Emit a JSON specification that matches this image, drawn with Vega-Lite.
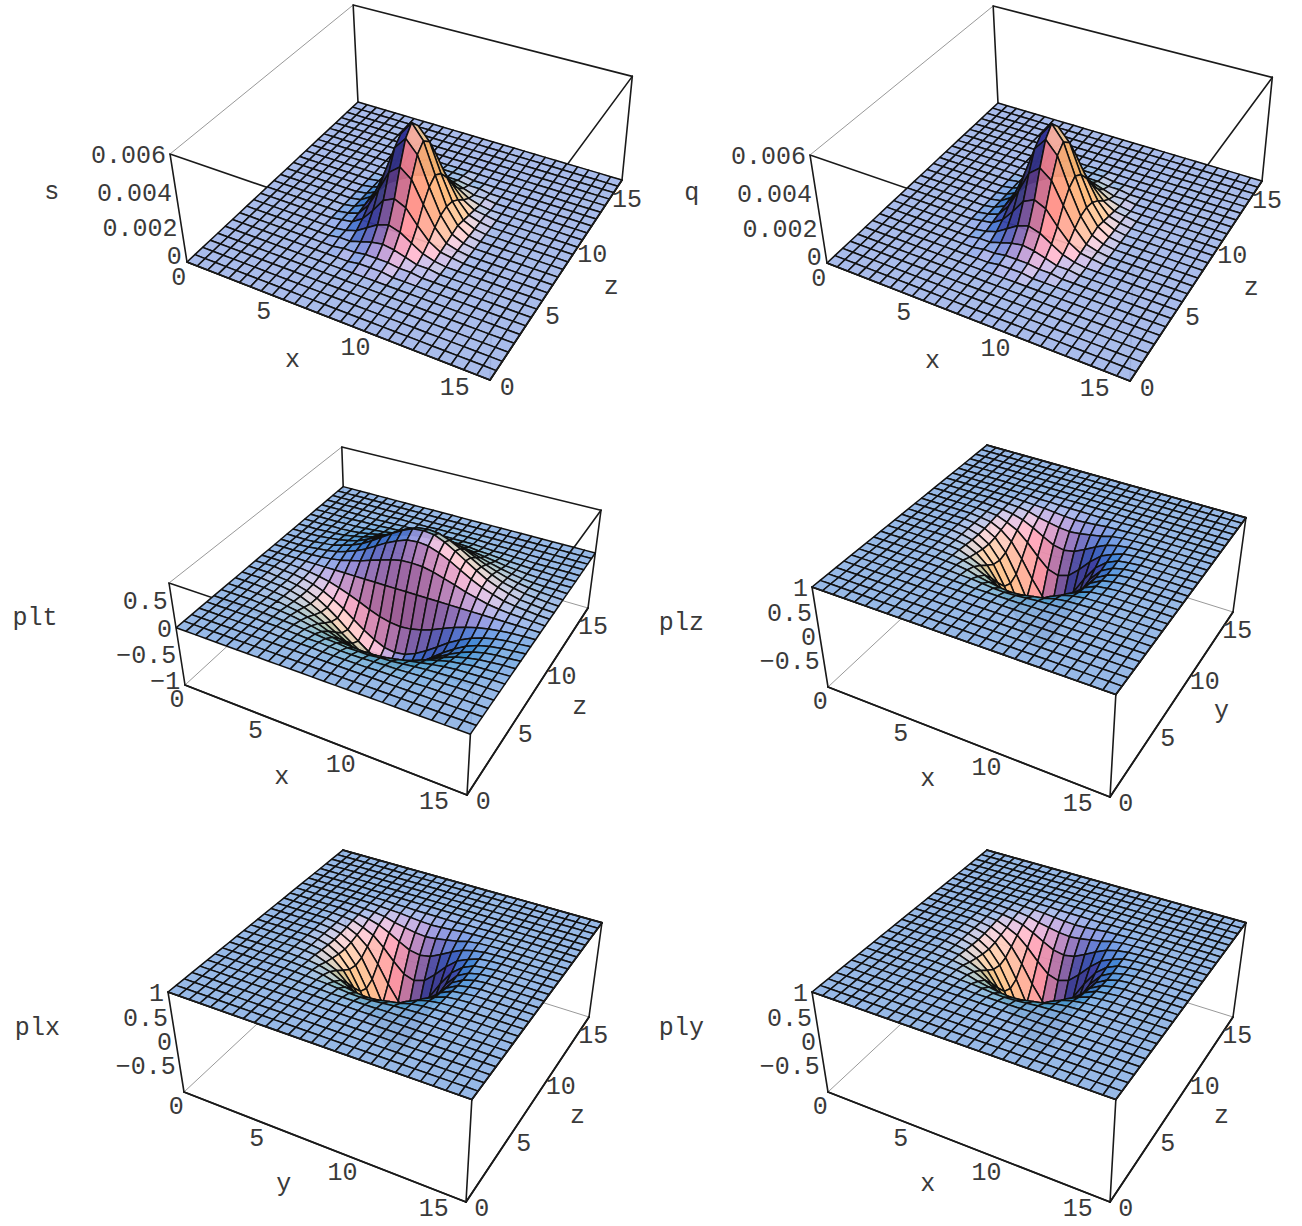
{"$schema":"https://vega.github.io/schema/vega-lite/v6.json","width":1302,"height":1226,"padding":0,"autosize":{"type":"fit","contains":"padding"},"background":"white","config":{"view":{"stroke":null}},
"params":[{"name":"cams","value":[[244.62,245.21,-27.37,187,72.72,-138.86,-117.4,262,-0.11915,0.2073,-0.061],[221.45,237.64,-27.83,185,6.92,-25.92,-142.81,685,-0.12966,0.22505,-0.07],[173.71,369.78,-72.84,828,32.24,-38.5,-141.09,687,-0.09756,0.20988,-0.07]]}],
"datasets":{
"box":[{"e":"AB0","n":0,"u":0,"v":0,"w":0,"z":"front"},{"e":"AB0","n":1,"u":1,"v":0,"w":0,"z":"front"},{"e":"BC0","n":0,"u":1,"v":0,"w":0,"z":"front"},{"e":"BC0","n":1,"u":1,"v":1,"w":0,"z":"front"},{"e":"CD0","n":0,"u":1,"v":1,"w":0,"z":"back","thin":1},{"e":"CD0","n":1,"u":0,"v":1,"w":0,"z":"back","thin":1},{"e":"DA0","n":0,"u":0,"v":1,"w":0,"z":"back","thin":1},{"e":"DA0","n":1,"u":0,"v":0,"w":0,"z":"back","thin":1},
{"e":"AB1","n":0,"u":0,"v":0,"w":1,"z":"rim"},{"e":"AB1","n":1,"u":1,"v":0,"w":1,"z":"rim"},{"e":"BC1","n":0,"u":1,"v":0,"w":1,"z":"rim"},{"e":"BC1","n":1,"u":1,"v":1,"w":1,"z":"rim"},{"e":"CD1","n":0,"u":1,"v":1,"w":1,"z":"rim"},{"e":"CD1","n":1,"u":0,"v":1,"w":1,"z":"rim"},{"e":"DA1","n":0,"u":0,"v":1,"w":1,"z":"back","thin":1},{"e":"DA1","n":1,"u":0,"v":0,"w":1,"z":"back","thin":1},
{"e":"AA","n":0,"u":0,"v":0,"w":0,"z":"back"},{"e":"AA","n":1,"u":0,"v":0,"w":1,"z":"back"},{"e":"BB","n":0,"u":1,"v":0,"w":0,"z":"back"},{"e":"BB","n":1,"u":1,"v":0,"w":1,"z":"back"},{"e":"CC","n":0,"u":1,"v":1,"w":0,"z":"back"},{"e":"CC","n":1,"u":1,"v":1,"w":1,"z":"back"},{"e":"DD","n":0,"u":0,"v":1,"w":0,"z":"back"},{"e":"DD","n":1,"u":0,"v":1,"w":1,"z":"back"}],
"labels":[
{"p":0,"kind":"a","val":0,"text":"0"},{"p":0,"kind":"a","val":5,"text":"5"},{"p":0,"kind":"a","val":10,"text":"10"},{"p":0,"kind":"a","val":15,"text":"15"},{"p":0,"kind":"b","val":0,"text":"0"},{"p":0,"kind":"b","val":5,"text":"5"},{"p":0,"kind":"b","val":10,"text":"10"},{"p":0,"kind":"b","val":15,"text":"15"},{"p":0,"kind":"h","val":0,"text":"0"},{"p":0,"kind":"h","val":0.002,"text":"0.002"},{"p":0,"kind":"h","val":0.004,"text":"0.004"},{"p":0,"kind":"h","val":0.006,"text":"0.006"},{"p":0,"kind":"A","text":"x"},{"p":0,"kind":"B","text":"z"},{"p":0,"kind":"H","text":"s"},
{"p":1,"kind":"a","val":0,"text":"0"},{"p":1,"kind":"a","val":5,"text":"5"},{"p":1,"kind":"a","val":10,"text":"10"},{"p":1,"kind":"a","val":15,"text":"15"},{"p":1,"kind":"b","val":0,"text":"0"},{"p":1,"kind":"b","val":5,"text":"5"},{"p":1,"kind":"b","val":10,"text":"10"},{"p":1,"kind":"b","val":15,"text":"15"},{"p":1,"kind":"h","val":0,"text":"0"},{"p":1,"kind":"h","val":0.002,"text":"0.002"},{"p":1,"kind":"h","val":0.004,"text":"0.004"},{"p":1,"kind":"h","val":0.006,"text":"0.006"},{"p":1,"kind":"A","text":"x"},{"p":1,"kind":"B","text":"z"},{"p":1,"kind":"H","text":"q"},
{"p":2,"kind":"a","val":0,"text":"0"},{"p":2,"kind":"a","val":5,"text":"5"},{"p":2,"kind":"a","val":10,"text":"10"},{"p":2,"kind":"a","val":15,"text":"15"},{"p":2,"kind":"b","val":0,"text":"0"},{"p":2,"kind":"b","val":5,"text":"5"},{"p":2,"kind":"b","val":10,"text":"10"},{"p":2,"kind":"b","val":15,"text":"15"},{"p":2,"kind":"h","val":-1,"text":"−1"},{"p":2,"kind":"h","val":-0.5,"text":"−0.5"},{"p":2,"kind":"h","val":0,"text":"0"},{"p":2,"kind":"h","val":0.5,"text":"0.5"},{"p":2,"kind":"A","text":"x"},{"p":2,"kind":"B","text":"z"},{"p":2,"kind":"H","text":"plt"},
{"p":3,"kind":"a","val":0,"text":"0"},{"p":3,"kind":"a","val":5,"text":"5"},{"p":3,"kind":"a","val":10,"text":"10"},{"p":3,"kind":"a","val":15,"text":"15"},{"p":3,"kind":"b","val":0,"text":"0"},{"p":3,"kind":"b","val":5,"text":"5"},{"p":3,"kind":"b","val":10,"text":"10"},{"p":3,"kind":"b","val":15,"text":"15"},{"p":3,"kind":"h","val":-0.5,"text":"−0.5"},{"p":3,"kind":"h","val":0,"text":"0"},{"p":3,"kind":"h","val":0.5,"text":"0.5"},{"p":3,"kind":"h","val":1,"text":"1"},{"p":3,"kind":"A","text":"x"},{"p":3,"kind":"B","text":"y"},{"p":3,"kind":"H","text":"plz"},
{"p":4,"kind":"a","val":0,"text":"0"},{"p":4,"kind":"a","val":5,"text":"5"},{"p":4,"kind":"a","val":10,"text":"10"},{"p":4,"kind":"a","val":15,"text":"15"},{"p":4,"kind":"b","val":0,"text":"0"},{"p":4,"kind":"b","val":5,"text":"5"},{"p":4,"kind":"b","val":10,"text":"10"},{"p":4,"kind":"b","val":15,"text":"15"},{"p":4,"kind":"h","val":-0.5,"text":"−0.5"},{"p":4,"kind":"h","val":0,"text":"0"},{"p":4,"kind":"h","val":0.5,"text":"0.5"},{"p":4,"kind":"h","val":1,"text":"1"},{"p":4,"kind":"A","text":"y"},{"p":4,"kind":"B","text":"z"},{"p":4,"kind":"H","text":"plx"},
{"p":5,"kind":"a","val":0,"text":"0"},{"p":5,"kind":"a","val":5,"text":"5"},{"p":5,"kind":"a","val":10,"text":"10"},{"p":5,"kind":"a","val":15,"text":"15"},{"p":5,"kind":"b","val":0,"text":"0"},{"p":5,"kind":"b","val":5,"text":"5"},{"p":5,"kind":"b","val":10,"text":"10"},{"p":5,"kind":"b","val":15,"text":"15"},{"p":5,"kind":"h","val":-0.5,"text":"−0.5"},{"p":5,"kind":"h","val":0,"text":"0"},{"p":5,"kind":"h","val":0.5,"text":"0.5"},{"p":5,"kind":"h","val":1,"text":"1"},{"p":5,"kind":"A","text":"x"},{"p":5,"kind":"B","text":"z"},{"p":5,"kind":"H","text":"ply"}],
"nodes":[
{"i":0,"j":26},{"i":0,"j":25},{"i":0,"j":24},{"i":0,"j":23},{"i":0,"j":22},{"i":0,"j":21},{"i":0,"j":20},{"i":0,"j":19},{"i":0,"j":18},{"i":0,"j":17},{"i":0,"j":16},{"i":0,"j":15},{"i":0,"j":14},{"i":0,"j":13},{"i":0,"j":12},{"i":0,"j":11},{"i":0,"j":10},{"i":0,"j":9},{"i":0,"j":8},{"i":0,"j":7},{"i":0,"j":6},{"i":0,"j":5},{"i":0,"j":4},{"i":0,"j":3},{"i":0,"j":2},{"i":0,"j":1},{"i":0,"j":0},
{"i":1,"j":26},{"i":1,"j":25},{"i":1,"j":24},{"i":1,"j":23},{"i":1,"j":22},{"i":1,"j":21},{"i":1,"j":20},{"i":1,"j":19},{"i":1,"j":18},{"i":1,"j":17},{"i":1,"j":16},{"i":1,"j":15},{"i":1,"j":14},{"i":1,"j":13},{"i":1,"j":12},{"i":1,"j":11},{"i":1,"j":10},{"i":1,"j":9},{"i":1,"j":8},{"i":1,"j":7},{"i":1,"j":6},{"i":1,"j":5},{"i":1,"j":4},{"i":1,"j":3},{"i":1,"j":2},{"i":1,"j":1},{"i":1,"j":0},
{"i":2,"j":26},{"i":2,"j":25},{"i":2,"j":24},{"i":2,"j":23},{"i":2,"j":22},{"i":2,"j":21},{"i":2,"j":20},{"i":2,"j":19},{"i":2,"j":18},{"i":2,"j":17},{"i":2,"j":16},{"i":2,"j":15},{"i":2,"j":14},{"i":2,"j":13},{"i":2,"j":12},{"i":2,"j":11},{"i":2,"j":10},{"i":2,"j":9},{"i":2,"j":8},{"i":2,"j":7},{"i":2,"j":6},{"i":2,"j":5},{"i":2,"j":4},{"i":2,"j":3},{"i":2,"j":2},{"i":2,"j":1},{"i":2,"j":0},
{"i":3,"j":26},{"i":3,"j":25},{"i":3,"j":24},{"i":3,"j":23},{"i":3,"j":22},{"i":3,"j":21},{"i":3,"j":20},{"i":3,"j":19,"t":0.01},{"i":3,"j":18,"t":0.01},{"i":3,"j":17,"t":0.01},{"i":3,"j":16,"t":0.01},{"i":3,"j":15,"t":0.01},{"i":3,"j":14,"t":0.01},{"i":3,"j":13},{"i":3,"j":12,"t":-0.01},{"i":3,"j":11,"t":-0.02},{"i":3,"j":10,"t":-0.02},{"i":3,"j":9,"t":-0.02},{"i":3,"j":8,"t":-0.01},{"i":3,"j":7,"t":-0.01},{"i":3,"j":6},{"i":3,"j":5},{"i":3,"j":4},{"i":3,"j":3},{"i":3,"j":2},{"i":3,"j":1},{"i":3,"j":0},
{"i":4,"j":26},{"i":4,"j":25},{"i":4,"j":24},{"i":4,"j":23},{"i":4,"j":22},{"i":4,"j":21},{"i":4,"j":20,"t":0.01},{"i":4,"j":19,"t":0.01},{"i":4,"j":18,"t":0.02},{"i":4,"j":17,"t":0.03},{"i":4,"j":16,"t":0.03},{"i":4,"j":15,"t":0.03},{"i":4,"j":14,"t":0.02},{"i":4,"j":13},{"i":4,"j":12,"t":-0.02},{"i":4,"j":11,"t":-0.03},{"i":4,"j":10,"t":-0.04},{"i":4,"j":9,"t":-0.03},{"i":4,"j":8,"t":-0.03},{"i":4,"j":7,"t":-0.02},{"i":4,"j":6,"t":-0.01},{"i":4,"j":5},{"i":4,"j":4},{"i":4,"j":3},{"i":4,"j":2},{"i":4,"j":1},{"i":4,"j":0},
{"i":5,"j":26},{"i":5,"j":25},{"i":5,"j":24},{"i":5,"j":23},{"i":5,"j":22},{"i":5,"j":21,"t":0.01},{"i":5,"j":20,"t":0.01},{"i":5,"j":19,"t":0.02},{"i":5,"j":18,"t":0.04},{"i":5,"j":17,"t":0.05},{"i":5,"j":16,"t":0.05},{"i":5,"j":15,"t":0.05},{"i":5,"j":14,"t":0.03},{"i":5,"j":13},{"i":5,"j":12,"t":-0.04},{"i":5,"j":11,"t":-0.06},{"i":5,"j":10,"t":-0.07},{"i":5,"j":9,"t":-0.06},{"i":5,"j":8,"t":-0.05},{"i":5,"j":7,"t":-0.03},{"i":5,"j":6,"t":-0.02},{"i":5,"j":5,"t":-0.01},{"i":5,"j":4},{"i":5,"j":3},{"i":5,"j":2},{"i":5,"j":1},{"i":5,"j":0},
{"i":6,"j":26},{"i":6,"j":25},{"i":6,"j":24},{"i":6,"j":23},{"i":6,"j":22},{"i":6,"j":21,"t":0.01},{"i":6,"j":20,"t":0.02},{"i":6,"j":19,"t":0.04},{"i":6,"j":18,"t":0.07},{"i":6,"j":17,"t":0.09,"l":0.99},{"i":6,"j":16,"t":0.1,"l":0.99},{"i":6,"j":15,"t":0.08,"l":0.98},{"i":6,"j":14,"t":0.05,"l":0.98},{"i":6,"j":13,"l":0.98},{"i":6,"j":12,"t":-0.07,"l":0.98},{"i":6,"j":11,"t":-0.11,"l":0.98},{"i":6,"j":10,"t":-0.12,"l":0.99},{"i":6,"j":9,"t":-0.11,"l":0.99},{"i":6,"j":8,"t":-0.09},{"i":6,"j":7,"t":-0.06},{"i":6,"j":6,"t":-0.03},{"i":6,"j":5,"t":-0.02},{"i":6,"j":4,"t":-0.01},{"i":6,"j":3},{"i":6,"j":2},{"i":6,"j":1},{"i":6,"j":0},
{"i":7,"j":26},{"i":7,"j":25},{"i":7,"j":24},{"i":7,"j":23},{"i":7,"j":22,"t":0.01},{"i":7,"j":21,"t":0.02},{"i":7,"j":20,"t":0.04},{"i":7,"j":19,"t":0.07},{"i":7,"j":18,"t":0.11,"l":0.99},{"i":7,"j":17,"t":0.14,"l":0.98},{"i":7,"j":16,"t":0.16,"l":0.97},{"i":7,"j":15,"t":0.14,"l":0.95},{"i":7,"j":14,"t":0.08,"l":0.93},{"i":7,"j":13,"l":0.92},{"i":7,"j":12,"t":-0.11,"l":0.93},{"i":7,"j":11,"t":-0.18,"l":0.95},{"i":7,"j":10,"t":-0.2,"l":0.97},{"i":7,"j":9,"t":-0.19,"l":0.98},{"i":7,"j":8,"t":-0.14,"l":0.99},{"i":7,"j":7,"t":-0.09},{"i":7,"j":6,"t":-0.05},{"i":7,"j":5,"t":-0.03},{"i":7,"j":4,"t":-0.01},{"i":7,"j":3},{"i":7,"j":2},{"i":7,"j":1},{"i":7,"j":0},
{"i":8,"j":26},{"i":8,"j":25},{"i":8,"j":24},{"i":8,"j":23,"t":0.01},{"i":8,"j":22,"t":0.01},{"i":8,"j":21,"t":0.03},{"i":8,"j":20,"t":0.06},{"i":8,"j":19,"t":0.11,"l":0.99},{"i":8,"j":18,"t":0.17,"l":0.98},{"i":8,"j":17,"t":0.22,"l":0.95},{"i":8,"j":16,"t":0.24,"l":0.89,"s":0.0001},{"i":8,"j":15,"t":0.21,"l":0.85,"s":0.0001},{"i":8,"j":14,"t":0.13,"l":0.81,"s":0.0001},{"i":8,"j":13,"l":0.79,"s":0.0001},{"i":8,"j":12,"t":-0.17,"l":0.81,"s":0.0001},{"i":8,"j":11,"t":-0.28,"l":0.85,"s":0.0001},{"i":8,"j":10,"t":-0.32,"l":0.89,"s":0.0001},{"i":8,"j":9,"t":-0.29,"l":0.95},{"i":8,"j":8,"t":-0.22,"l":0.98},{"i":8,"j":7,"t":-0.14,"l":0.99},{"i":8,"j":6,"t":-0.08},{"i":8,"j":5,"t":-0.04},{"i":8,"j":4,"t":-0.02},{"i":8,"j":3,"t":-0.01},{"i":8,"j":2},{"i":8,"j":1},{"i":8,"j":0},
{"i":9,"j":26},{"i":9,"j":25},{"i":9,"j":24},{"i":9,"j":23,"t":0.01},{"i":9,"j":22,"t":0.02},{"i":9,"j":21,"t":0.04},{"i":9,"j":20,"t":0.09,"l":0.99},{"i":9,"j":19,"t":0.16,"l":0.98},{"i":9,"j":18,"t":0.24,"l":0.95,"s":0.0001},{"i":9,"j":17,"t":0.31,"l":0.89,"s":0.0001},{"i":9,"j":16,"t":0.35,"l":0.79,"s":0.0002},{"i":9,"j":15,"t":0.3,"l":0.67,"s":0.0003},{"i":9,"j":14,"t":0.18,"l":0.56,"s":0.0004},{"i":9,"j":13,"l":0.52,"s":0.0005},{"i":9,"j":12,"t":-0.24,"l":0.56,"s":0.0004},{"i":9,"j":11,"t":-0.4,"l":0.67,"s":0.0003},{"i":9,"j":10,"t":-0.46,"l":0.79,"s":0.0002},{"i":9,"j":9,"t":-0.41,"l":0.89,"s":0.0001},{"i":9,"j":8,"t":-0.31,"l":0.95,"s":0.0001},{"i":9,"j":7,"t":-0.2,"l":0.98},{"i":9,"j":6,"t":-0.12,"l":0.99},{"i":9,"j":5,"t":-0.06},{"i":9,"j":4,"t":-0.03},{"i":9,"j":3,"t":-0.01},{"i":9,"j":2},{"i":9,"j":1},{"i":9,"j":0},
{"i":10,"j":26},{"i":10,"j":25},{"i":10,"j":24},{"i":10,"j":23,"t":0.01},{"i":10,"j":22,"t":0.02},{"i":10,"j":21,"t":0.06},{"i":10,"j":20,"t":0.12,"l":0.99},{"i":10,"j":19,"t":0.21,"l":0.97,"s":0.0001},{"i":10,"j":18,"t":0.32,"l":0.89,"s":0.0001},{"i":10,"j":17,"t":0.42,"l":0.79,"s":0.0003},{"i":10,"j":16,"t":0.47,"l":0.6,"s":0.0006},{"i":10,"j":15,"t":0.41,"l":0.37,"s":0.001},{"i":10,"j":14,"t":0.25,"l":0.17,"s":0.0013},{"i":10,"j":13,"l":0.1,"s":0.0014},{"i":10,"j":12,"t":-0.32,"l":0.17,"s":0.0013},{"i":10,"j":11,"t":-0.55,"l":0.37,"s":0.001},{"i":10,"j":10,"t":-0.62,"l":0.6,"s":0.0006},{"i":10,"j":9,"t":-0.56,"l":0.79,"s":0.0003},{"i":10,"j":8,"t":-0.42,"l":0.89,"s":0.0001},{"i":10,"j":7,"t":-0.28,"l":0.97,"s":0.0001},{"i":10,"j":6,"t":-0.16,"l":0.99},{"i":10,"j":5,"t":-0.08},{"i":10,"j":4,"t":-0.04},{"i":10,"j":3,"t":-0.01},{"i":10,"j":2},{"i":10,"j":1},{"i":10,"j":0},
{"i":11,"j":26},{"i":11,"j":25},{"i":11,"j":24},{"i":11,"j":23,"t":0.01},{"i":11,"j":22,"t":0.03},{"i":11,"j":21,"t":0.07},{"i":11,"j":20,"t":0.15,"l":0.98},{"i":11,"j":19,"t":0.27,"l":0.95,"s":0.0001},{"i":11,"j":18,"t":0.41,"l":0.85,"s":0.0003},{"i":11,"j":17,"t":0.53,"l":0.67,"s":0.0007},{"i":11,"j":16,"t":0.59,"l":0.37,"s":0.0013},{"i":11,"j":15,"t":0.52,"l":0.01,"s":0.0021},{"i":11,"j":14,"t":0.31,"l":-0.3,"s":0.0027},{"i":11,"j":13,"l":-0.42,"s":0.003},{"i":11,"j":12,"t":-0.41,"l":-0.3,"s":0.0027},{"i":11,"j":11,"t":-0.69,"l":0.01,"s":0.0021},{"i":11,"j":10,"t":-0.78,"l":0.37,"s":0.0013},{"i":11,"j":9,"t":-0.7,"l":0.67,"s":0.0007},{"i":11,"j":8,"t":-0.53,"l":0.85,"s":0.0003},{"i":11,"j":7,"t":-0.35,"l":0.95,"s":0.0001},{"i":11,"j":6,"t":-0.2,"l":0.98},{"i":11,"j":5,"t":-0.1},{"i":11,"j":4,"t":-0.04},{"i":11,"j":3,"t":-0.01},{"i":11,"j":2},{"i":11,"j":1},{"i":11,"j":0},
{"i":12,"j":26},{"i":12,"j":25},{"i":12,"j":24},{"i":12,"j":23,"t":0.02},{"i":12,"j":22,"t":0.04},{"i":12,"j":21,"t":0.09},{"i":12,"j":20,"t":0.18,"l":0.98,"s":0.0001},{"i":12,"j":19,"t":0.32,"l":0.93,"s":0.0002},{"i":12,"j":18,"t":0.48,"l":0.81,"s":0.0005},{"i":12,"j":17,"t":0.63,"l":0.56,"s":0.0011},{"i":12,"j":16,"t":0.7,"l":0.17,"s":0.0021},{"i":12,"j":15,"t":0.61,"l":-0.3,"s":0.0033},{"i":12,"j":14,"t":0.37,"l":-0.71,"s":0.0043},{"i":12,"j":13,"l":-0.87,"s":0.0047},{"i":12,"j":12,"t":-0.48,"l":-0.71,"s":0.0043},{"i":12,"j":11,"t":-0.81,"l":-0.3,"s":0.0033},{"i":12,"j":10,"t":-0.92,"l":0.17,"s":0.0021},{"i":12,"j":9,"t":-0.83,"l":0.56,"s":0.0011},{"i":12,"j":8,"t":-0.63,"l":0.81,"s":0.0005},{"i":12,"j":7,"t":-0.41,"l":0.93,"s":0.0002},{"i":12,"j":6,"t":-0.24,"l":0.98,"s":0.0001},{"i":12,"j":5,"t":-0.11},{"i":12,"j":4,"t":-0.05},{"i":12,"j":3,"t":-0.02},{"i":12,"j":2},{"i":12,"j":1},{"i":12,"j":0},
{"i":13,"j":26},{"i":13,"j":25},{"i":13,"j":24},{"i":13,"j":23,"t":0.02},{"i":13,"j":22,"t":0.04},{"i":13,"j":21,"t":0.1},{"i":13,"j":20,"t":0.19,"l":0.98,"s":0.0001},{"i":13,"j":19,"t":0.35,"l":0.92,"s":0.0002},{"i":13,"j":18,"t":0.53,"l":0.79,"s":0.0006},{"i":13,"j":17,"t":0.7,"l":0.52,"s":0.0013},{"i":13,"j":16,"t":0.78,"l":0.1,"s":0.0024},{"i":13,"j":15,"t":0.68,"l":-0.42,"s":0.0038},{"i":13,"j":14,"t":0.41,"l":-0.87,"s":0.005},{"i":13,"j":13,"l":-1.05,"s":0.0055},{"i":13,"j":12,"t":-0.53,"l":-0.87,"s":0.005},{"i":13,"j":11,"t":-0.9,"l":-0.42,"s":0.0038},{"i":13,"j":10,"t":-1.02,"l":0.1,"s":0.0024},{"i":13,"j":9,"t":-0.92,"l":0.52,"s":0.0013},{"i":13,"j":8,"t":-0.7,"l":0.79,"s":0.0006},{"i":13,"j":7,"t":-0.46,"l":0.92,"s":0.0002},{"i":13,"j":6,"t":-0.26,"l":0.98,"s":0.0001},{"i":13,"j":5,"t":-0.13},{"i":13,"j":4,"t":-0.06},{"i":13,"j":3,"t":-0.02},{"i":13,"j":2},{"i":13,"j":1},{"i":13,"j":0},
{"i":14,"j":26},{"i":14,"j":25},{"i":14,"j":24},{"i":14,"j":23,"t":0.02},{"i":14,"j":22,"t":0.04},{"i":14,"j":21,"t":0.1},{"i":14,"j":20,"t":0.2,"l":0.98,"s":0.0001},{"i":14,"j":19,"t":0.36,"l":0.93,"s":0.0002},{"i":14,"j":18,"t":0.55,"l":0.81,"s":0.0005},{"i":14,"j":17,"t":0.72,"l":0.56,"s":0.0011},{"i":14,"j":16,"t":0.8,"l":0.17,"s":0.0021},{"i":14,"j":15,"t":0.7,"l":-0.3,"s":0.0033},{"i":14,"j":14,"t":0.42,"l":-0.71,"s":0.0043},{"i":14,"j":13,"l":-0.87,"s":0.0047},{"i":14,"j":12,"t":-0.55,"l":-0.71,"s":0.0043},{"i":14,"j":11,"t":-0.93,"l":-0.3,"s":0.0033},{"i":14,"j":10,"t":-1.05,"l":0.17,"s":0.0021},{"i":14,"j":9,"t":-0.95,"l":0.56,"s":0.0011},{"i":14,"j":8,"t":-0.72,"l":0.81,"s":0.0005},{"i":14,"j":7,"t":-0.47,"l":0.93,"s":0.0002},{"i":14,"j":6,"t":-0.27,"l":0.98,"s":0.0001},{"i":14,"j":5,"t":-0.13},{"i":14,"j":4,"t":-0.06},{"i":14,"j":3,"t":-0.02},{"i":14,"j":2},{"i":14,"j":1},{"i":14,"j":0},
{"i":15,"j":26},{"i":15,"j":25},{"i":15,"j":24},{"i":15,"j":23,"t":0.02},{"i":15,"j":22,"t":0.04},{"i":15,"j":21,"t":0.1},{"i":15,"j":20,"t":0.19,"l":0.98},{"i":15,"j":19,"t":0.35,"l":0.95,"s":0.0001},{"i":15,"j":18,"t":0.53,"l":0.85,"s":0.0003},{"i":15,"j":17,"t":0.7,"l":0.67,"s":0.0007},{"i":15,"j":16,"t":0.78,"l":0.37,"s":0.0013},{"i":15,"j":15,"t":0.68,"l":0.01,"s":0.0021},{"i":15,"j":14,"t":0.41,"l":-0.3,"s":0.0027},{"i":15,"j":13,"l":-0.42,"s":0.003},{"i":15,"j":12,"t":-0.53,"l":-0.3,"s":0.0027},{"i":15,"j":11,"t":-0.9,"l":0.01,"s":0.0021},{"i":15,"j":10,"t":-1.02,"l":0.37,"s":0.0013},{"i":15,"j":9,"t":-0.92,"l":0.67,"s":0.0007},{"i":15,"j":8,"t":-0.7,"l":0.85,"s":0.0003},{"i":15,"j":7,"t":-0.46,"l":0.95,"s":0.0001},{"i":15,"j":6,"t":-0.26,"l":0.98},{"i":15,"j":5,"t":-0.13},{"i":15,"j":4,"t":-0.06},{"i":15,"j":3,"t":-0.02},{"i":15,"j":2},{"i":15,"j":1},{"i":15,"j":0},
{"i":16,"j":26},{"i":16,"j":25},{"i":16,"j":24},{"i":16,"j":23,"t":0.02},{"i":16,"j":22,"t":0.04},{"i":16,"j":21,"t":0.09},{"i":16,"j":20,"t":0.18,"l":0.99},{"i":16,"j":19,"t":0.32,"l":0.97,"s":0.0001},{"i":16,"j":18,"t":0.48,"l":0.89,"s":0.0001},{"i":16,"j":17,"t":0.63,"l":0.79,"s":0.0003},{"i":16,"j":16,"t":0.7,"l":0.6,"s":0.0006},{"i":16,"j":15,"t":0.61,"l":0.37,"s":0.001},{"i":16,"j":14,"t":0.37,"l":0.17,"s":0.0013},{"i":16,"j":13,"l":0.1,"s":0.0014},{"i":16,"j":12,"t":-0.48,"l":0.17,"s":0.0013},{"i":16,"j":11,"t":-0.81,"l":0.37,"s":0.001},{"i":16,"j":10,"t":-0.92,"l":0.6,"s":0.0006},{"i":16,"j":9,"t":-0.83,"l":0.79,"s":0.0003},{"i":16,"j":8,"t":-0.63,"l":0.89,"s":0.0001},{"i":16,"j":7,"t":-0.41,"l":0.97,"s":0.0001},{"i":16,"j":6,"t":-0.24,"l":0.99},{"i":16,"j":5,"t":-0.11},{"i":16,"j":4,"t":-0.05},{"i":16,"j":3,"t":-0.02},{"i":16,"j":2},{"i":16,"j":1},{"i":16,"j":0},
{"i":17,"j":26},{"i":17,"j":25},{"i":17,"j":24},{"i":17,"j":23,"t":0.01},{"i":17,"j":22,"t":0.03},{"i":17,"j":21,"t":0.07},{"i":17,"j":20,"t":0.15,"l":0.99},{"i":17,"j":19,"t":0.27,"l":0.98},{"i":17,"j":18,"t":0.41,"l":0.95,"s":0.0001},{"i":17,"j":17,"t":0.53,"l":0.89,"s":0.0001},{"i":17,"j":16,"t":0.59,"l":0.79,"s":0.0002},{"i":17,"j":15,"t":0.52,"l":0.67,"s":0.0003},{"i":17,"j":14,"t":0.31,"l":0.56,"s":0.0004},{"i":17,"j":13,"l":0.52,"s":0.0005},{"i":17,"j":12,"t":-0.41,"l":0.56,"s":0.0004},{"i":17,"j":11,"t":-0.69,"l":0.67,"s":0.0003},{"i":17,"j":10,"t":-0.78,"l":0.79,"s":0.0002},{"i":17,"j":9,"t":-0.7,"l":0.89,"s":0.0001},{"i":17,"j":8,"t":-0.53,"l":0.95,"s":0.0001},{"i":17,"j":7,"t":-0.35,"l":0.98},{"i":17,"j":6,"t":-0.2,"l":0.99},{"i":17,"j":5,"t":-0.1},{"i":17,"j":4,"t":-0.04},{"i":17,"j":3,"t":-0.01},{"i":17,"j":2},{"i":17,"j":1},{"i":17,"j":0},
{"i":18,"j":26},{"i":18,"j":25},{"i":18,"j":24},{"i":18,"j":23,"t":0.01},{"i":18,"j":22,"t":0.02},{"i":18,"j":21,"t":0.06},{"i":18,"j":20,"t":0.12},{"i":18,"j":19,"t":0.21,"l":0.99},{"i":18,"j":18,"t":0.32,"l":0.98},{"i":18,"j":17,"t":0.42,"l":0.95},{"i":18,"j":16,"t":0.47,"l":0.89,"s":0.0001},{"i":18,"j":15,"t":0.41,"l":0.85,"s":0.0001},{"i":18,"j":14,"t":0.25,"l":0.81,"s":0.0001},{"i":18,"j":13,"l":0.79,"s":0.0001},{"i":18,"j":12,"t":-0.32,"l":0.81,"s":0.0001},{"i":18,"j":11,"t":-0.55,"l":0.85,"s":0.0001},{"i":18,"j":10,"t":-0.62,"l":0.89,"s":0.0001},{"i":18,"j":9,"t":-0.56,"l":0.95},{"i":18,"j":8,"t":-0.42,"l":0.98},{"i":18,"j":7,"t":-0.28,"l":0.99},{"i":18,"j":6,"t":-0.16},{"i":18,"j":5,"t":-0.08},{"i":18,"j":4,"t":-0.04},{"i":18,"j":3,"t":-0.01},{"i":18,"j":2},{"i":18,"j":1},{"i":18,"j":0},
{"i":19,"j":26},{"i":19,"j":25},{"i":19,"j":24},{"i":19,"j":23,"t":0.01},{"i":19,"j":22,"t":0.02},{"i":19,"j":21,"t":0.04},{"i":19,"j":20,"t":0.09},{"i":19,"j":19,"t":0.16},{"i":19,"j":18,"t":0.24,"l":0.99},{"i":19,"j":17,"t":0.31,"l":0.98},{"i":19,"j":16,"t":0.35,"l":0.97},{"i":19,"j":15,"t":0.3,"l":0.95},{"i":19,"j":14,"t":0.18,"l":0.93},{"i":19,"j":13,"l":0.92},{"i":19,"j":12,"t":-0.24,"l":0.93},{"i":19,"j":11,"t":-0.4,"l":0.95},{"i":19,"j":10,"t":-0.46,"l":0.97},{"i":19,"j":9,"t":-0.41,"l":0.98},{"i":19,"j":8,"t":-0.31,"l":0.99},{"i":19,"j":7,"t":-0.2},{"i":19,"j":6,"t":-0.12},{"i":19,"j":5,"t":-0.06},{"i":19,"j":4,"t":-0.03},{"i":19,"j":3,"t":-0.01},{"i":19,"j":2},{"i":19,"j":1},{"i":19,"j":0},
{"i":20,"j":26},{"i":20,"j":25},{"i":20,"j":24},{"i":20,"j":23,"t":0.01},{"i":20,"j":22,"t":0.01},{"i":20,"j":21,"t":0.03},{"i":20,"j":20,"t":0.06},{"i":20,"j":19,"t":0.11},{"i":20,"j":18,"t":0.17},{"i":20,"j":17,"t":0.22,"l":0.99},{"i":20,"j":16,"t":0.24,"l":0.99},{"i":20,"j":15,"t":0.21,"l":0.98},{"i":20,"j":14,"t":0.13,"l":0.98},{"i":20,"j":13,"l":0.98},{"i":20,"j":12,"t":-0.17,"l":0.98},{"i":20,"j":11,"t":-0.28,"l":0.98},{"i":20,"j":10,"t":-0.32,"l":0.99},{"i":20,"j":9,"t":-0.29,"l":0.99},{"i":20,"j":8,"t":-0.22},{"i":20,"j":7,"t":-0.14},{"i":20,"j":6,"t":-0.08},{"i":20,"j":5,"t":-0.04},{"i":20,"j":4,"t":-0.02},{"i":20,"j":3,"t":-0.01},{"i":20,"j":2},{"i":20,"j":1},{"i":20,"j":0},
{"i":21,"j":26},{"i":21,"j":25},{"i":21,"j":24},{"i":21,"j":23},{"i":21,"j":22,"t":0.01},{"i":21,"j":21,"t":0.02},{"i":21,"j":20,"t":0.04},{"i":21,"j":19,"t":0.07},{"i":21,"j":18,"t":0.11},{"i":21,"j":17,"t":0.14},{"i":21,"j":16,"t":0.16},{"i":21,"j":15,"t":0.14},{"i":21,"j":14,"t":0.08},{"i":21,"j":13},{"i":21,"j":12,"t":-0.11},{"i":21,"j":11,"t":-0.18},{"i":21,"j":10,"t":-0.2},{"i":21,"j":9,"t":-0.19},{"i":21,"j":8,"t":-0.14},{"i":21,"j":7,"t":-0.09},{"i":21,"j":6,"t":-0.05},{"i":21,"j":5,"t":-0.03},{"i":21,"j":4,"t":-0.01},{"i":21,"j":3},{"i":21,"j":2},{"i":21,"j":1},{"i":21,"j":0},
{"i":22,"j":26},{"i":22,"j":25},{"i":22,"j":24},{"i":22,"j":23},{"i":22,"j":22},{"i":22,"j":21,"t":0.01},{"i":22,"j":20,"t":0.02},{"i":22,"j":19,"t":0.04},{"i":22,"j":18,"t":0.07},{"i":22,"j":17,"t":0.09},{"i":22,"j":16,"t":0.1},{"i":22,"j":15,"t":0.08},{"i":22,"j":14,"t":0.05},{"i":22,"j":13},{"i":22,"j":12,"t":-0.07},{"i":22,"j":11,"t":-0.11},{"i":22,"j":10,"t":-0.12},{"i":22,"j":9,"t":-0.11},{"i":22,"j":8,"t":-0.09},{"i":22,"j":7,"t":-0.06},{"i":22,"j":6,"t":-0.03},{"i":22,"j":5,"t":-0.02},{"i":22,"j":4,"t":-0.01},{"i":22,"j":3},{"i":22,"j":2},{"i":22,"j":1},{"i":22,"j":0},
{"i":23,"j":26},{"i":23,"j":25},{"i":23,"j":24},{"i":23,"j":23},{"i":23,"j":22},{"i":23,"j":21,"t":0.01},{"i":23,"j":20,"t":0.01},{"i":23,"j":19,"t":0.02},{"i":23,"j":18,"t":0.04},{"i":23,"j":17,"t":0.05},{"i":23,"j":16,"t":0.05},{"i":23,"j":15,"t":0.05},{"i":23,"j":14,"t":0.03},{"i":23,"j":13},{"i":23,"j":12,"t":-0.04},{"i":23,"j":11,"t":-0.06},{"i":23,"j":10,"t":-0.07},{"i":23,"j":9,"t":-0.06},{"i":23,"j":8,"t":-0.05},{"i":23,"j":7,"t":-0.03},{"i":23,"j":6,"t":-0.02},{"i":23,"j":5,"t":-0.01},{"i":23,"j":4},{"i":23,"j":3},{"i":23,"j":2},{"i":23,"j":1},{"i":23,"j":0},
{"i":24,"j":26},{"i":24,"j":25},{"i":24,"j":24},{"i":24,"j":23},{"i":24,"j":22},{"i":24,"j":21},{"i":24,"j":20,"t":0.01},{"i":24,"j":19,"t":0.01},{"i":24,"j":18,"t":0.02},{"i":24,"j":17,"t":0.03},{"i":24,"j":16,"t":0.03},{"i":24,"j":15,"t":0.03},{"i":24,"j":14,"t":0.02},{"i":24,"j":13},{"i":24,"j":12,"t":-0.02},{"i":24,"j":11,"t":-0.03},{"i":24,"j":10,"t":-0.04},{"i":24,"j":9,"t":-0.03},{"i":24,"j":8,"t":-0.03},{"i":24,"j":7,"t":-0.02},{"i":24,"j":6,"t":-0.01},{"i":24,"j":5},{"i":24,"j":4},{"i":24,"j":3},{"i":24,"j":2},{"i":24,"j":1},{"i":24,"j":0},
{"i":25,"j":26},{"i":25,"j":25},{"i":25,"j":24},{"i":25,"j":23},{"i":25,"j":22},{"i":25,"j":21},{"i":25,"j":20},{"i":25,"j":19,"t":0.01},{"i":25,"j":18,"t":0.01},{"i":25,"j":17,"t":0.01},{"i":25,"j":16,"t":0.01},{"i":25,"j":15,"t":0.01},{"i":25,"j":14,"t":0.01},{"i":25,"j":13},{"i":25,"j":12,"t":-0.01},{"i":25,"j":11,"t":-0.02},{"i":25,"j":10,"t":-0.02},{"i":25,"j":9,"t":-0.02},{"i":25,"j":8,"t":-0.01},{"i":25,"j":7,"t":-0.01},{"i":25,"j":6},{"i":25,"j":5},{"i":25,"j":4},{"i":25,"j":3},{"i":25,"j":2},{"i":25,"j":1},{"i":25,"j":0},
{"i":26,"j":26},{"i":26,"j":25},{"i":26,"j":24},{"i":26,"j":23},{"i":26,"j":22},{"i":26,"j":21},{"i":26,"j":20},{"i":26,"j":19},{"i":26,"j":18},{"i":26,"j":17},{"i":26,"j":16},{"i":26,"j":15},{"i":26,"j":14},{"i":26,"j":13},{"i":26,"j":12},{"i":26,"j":11},{"i":26,"j":10},{"i":26,"j":9},{"i":26,"j":8},{"i":26,"j":7},{"i":26,"j":6},{"i":26,"j":5},{"i":26,"j":4},{"i":26,"j":3},{"i":26,"j":2},{"i":26,"j":1},{"i":26,"j":0}
]},
"layer":[
{"data":{"name":"box"},"transform":[
{"calculate":"[0,1,2,3,4,5]","as":"p"},{"flatten":["p"]},
{"calculate":"[0,0,1,2,2,2][datum.p]","as":"cam"},{"calculate":"cams[datum.cam]","as":"m"},
{"calculate":"datum.m[8]*datum.u+datum.m[9]*datum.v+datum.m[10]*datum.w+1","as":"D"},
{"calculate":"(datum.m[0]*datum.u+datum.m[1]*datum.v+datum.m[2]*datum.w+datum.m[3])/datum.D+[0,640,0,0,-644,0][datum.p]","as":"X"},
{"calculate":"(datum.m[4]*datum.u+datum.m[5]*datum.v+datum.m[6]*datum.w+datum.m[7])/datum.D+[0,1,0,0,405,405][datum.p]","as":"Y"},
{"calculate":"datum.p+datum.e","as":"key"}],
"mark":{"type":"line","strokeCap":"round"},
"encoding":{"x":{"field":"X","type":"quantitative","scale":{"domain":[0,1302],"nice":false,"zero":false},"axis":null},"y":{"field":"Y","type":"quantitative","scale":{"domain":[1226,0],"nice":false,"zero":false},"axis":null},"detail":{"field":"key"},"order":{"field":"n"},
"stroke":{"condition":{"test":"datum.thin==1","value":"#999999"},"value":"#1a1a1a"},"strokeWidth":{"condition":{"test":"datum.thin==1","value":1},"value":1.6}}},
{"data":{"name":"nodes"},"transform":[
{"calculate":"[0,1,2,3,4,5]","as":"p"},{"flatten":["p"]},
{"calculate":"[0,1,2,3,4]","as":"c"},{"flatten":["c"]},
{"calculate":"datum.i-[0,1,1,0,0][datum.c]","as":"a"},
{"calculate":"datum.j-[0,0,1,1,0][datum.c]","as":"b"},
{"filter":"datum.a>=0&&datum.a<26&&datum.b>=0&&datum.b<26"},
{"calculate":"[0,0,1,2,2,2][datum.p]","as":"cam"},{"calculate":"cams[datum.cam]","as":"m"},
{"calculate":"datum.p<2?(datum.s||0):datum.p==2?(datum.t||0):(isValid(datum.l)?datum.l:1)","as":"H"},
{"calculate":"datum.i/26","as":"u"},{"calculate":"datum.j/26","as":"v"},
{"calculate":"datum.cam==0?datum.H/0.006:datum.cam==1?(datum.H+1.1)/1.9:(datum.H+1.1)/2.1","as":"w"},
{"calculate":"datum.m[8]*datum.u+datum.m[9]*datum.v+datum.m[10]*datum.w+1","as":"D"},
{"calculate":"(datum.m[0]*datum.u+datum.m[1]*datum.v+datum.m[2]*datum.w+datum.m[3])/datum.D+[0,640,0,0,-644,0][datum.p]","as":"X"},
{"calculate":"(datum.m[4]*datum.u+datum.m[5]*datum.v+datum.m[6]*datum.w+datum.m[7])/datum.D+[0,1,0,0,405,405][datum.p]","as":"Y"},
{"calculate":"datum.c<4?((datum.i-datum.a)*2-1)*datum.w:0","as":"su"},
{"calculate":"datum.c<4?((datum.j-datum.b)*2-1)*datum.w:0","as":"sv"},
{"calculate":"datum.p+'_'+datum.a+'_'+datum.b","as":"q"},
{"joinaggregate":[{"op":"sum","field":"su","as":"gu"},{"op":"sum","field":"sv","as":"gv"}],"groupby":["q"]},
{"calculate":"datum.gu*5.2","as":"gx"},{"calculate":"datum.gv*5.2","as":"gy"},
{"calculate":"sqrt(datum.gx*datum.gx+datum.gy*datum.gy+1)","as":"len"},
{"calculate":"(-datum.gx*0.92-datum.gy*0.38)/datum.len","as":"nr"},
{"calculate":"(-datum.gx*0.38+datum.gy*0.92)/datum.len","as":"nt"},
{"calculate":"[0.64,0.53,0.53][datum.cam]","as":"se"},{"calculate":"[0.77,0.85,0.85][datum.cam]","as":"ce"},
{"calculate":"datum.ce/datum.len-datum.nt*datum.se","as":"ny"},
{"calculate":"datum.se/datum.len+datum.nt*datum.ce","as":"nz"},
{"calculate":"'rgb('+round(255*min(1,0.2+0.98*max(0,(datum.nr+datum.nz)/1.414)))+','+round(255*min(1,0.2+0.64*max(0,(datum.nr+datum.ny+datum.nz)/1.732)))+','+round(255*min(1,0.2+0.72*max(0,(datum.ny+datum.nz)/1.414)))+')'","as":"col"}],
"mark":{"type":"line","fillOpacity":0.94,"stroke":"#111111","strokeWidth":1.5,"strokeJoin":"round"},
"encoding":{"x":{"field":"X","type":"quantitative","scale":{"domain":[0,1302],"nice":false,"zero":false},"axis":null},"y":{"field":"Y","type":"quantitative","scale":{"domain":[1226,0],"nice":false,"zero":false},"axis":null},"detail":{"field":"q"},"order":{"field":"c"},"fill":{"field":"col","type":"nominal","scale":null,"legend":null}}},
{"data":{"name":"box"},"transform":[
{"calculate":"[0,1,2,3,4,5]","as":"p"},{"flatten":["p"]},
{"calculate":"[0,0,1,2,2,2][datum.p]","as":"cam"},
{"filter":"datum.z=='front'||(datum.z=='rim'&&datum.cam==2)"},
{"calculate":"cams[datum.cam]","as":"m"},
{"calculate":"datum.m[8]*datum.u+datum.m[9]*datum.v+datum.m[10]*datum.w+1","as":"D"},
{"calculate":"(datum.m[0]*datum.u+datum.m[1]*datum.v+datum.m[2]*datum.w+datum.m[3])/datum.D+[0,640,0,0,-644,0][datum.p]","as":"X"},
{"calculate":"(datum.m[4]*datum.u+datum.m[5]*datum.v+datum.m[6]*datum.w+datum.m[7])/datum.D+[0,1,0,0,405,405][datum.p]","as":"Y"},
{"calculate":"datum.p+datum.e","as":"key"}],
"mark":{"type":"line","stroke":"#1a1a1a","strokeWidth":1.8,"strokeCap":"round"},
"encoding":{"x":{"field":"X","type":"quantitative","scale":{"domain":[0,1302],"nice":false,"zero":false},"axis":null},"y":{"field":"Y","type":"quantitative","scale":{"domain":[1226,0],"nice":false,"zero":false},"axis":null},"detail":{"field":"key"},"order":{"field":"n"}}},
{"data":{"name":"labels"},"transform":[
{"filter":"datum.kind!='h'"},
{"calculate":"[0,0,1,2,2,2][datum.p]","as":"cam"},{"calculate":"cams[datum.cam]","as":"m"},
{"calculate":"datum.kind=='a'?datum.val/16.5+0.02:datum.kind=='b'?1.05:datum.kind=='A'?0.5:datum.kind=='B'?1.15:[-0.52,-0.65,-0.6][datum.cam]","as":"u"},
{"calculate":"datum.kind=='a'?-0.065:datum.kind=='b'?datum.val/16.5:datum.kind=='A'?-0.185:datum.kind=='B'?0.5:0","as":"v"},
{"calculate":"datum.kind=='H'?[0.2,0.12,0.1][datum.cam]:0","as":"w"},
{"calculate":"datum.m[8]*datum.u+datum.m[9]*datum.v+datum.m[10]*datum.w+1","as":"D"},
{"calculate":"(datum.m[0]*datum.u+datum.m[1]*datum.v+datum.m[2]*datum.w+datum.m[3])/datum.D+[0,640,0,0,-644,0][datum.p]","as":"X"},
{"calculate":"(datum.m[4]*datum.u+datum.m[5]*datum.v+datum.m[6]*datum.w+datum.m[7])/datum.D+[0,1,0,0,405,405][datum.p]","as":"Y"}],
"mark":{"type":"text","font":"Liberation Mono","fontSize":25,"fill":"#3a3a3a","align":"center","baseline":"middle"},
"encoding":{"x":{"field":"X","type":"quantitative","scale":{"domain":[0,1302],"nice":false,"zero":false},"axis":null},"y":{"field":"Y","type":"quantitative","scale":{"domain":[1226,0],"nice":false,"zero":false},"axis":null},"text":{"field":"text"}}},
{"data":{"name":"labels"},"transform":[
{"filter":"datum.kind=='h'"},
{"calculate":"[0,0,1,2,2,2][datum.p]","as":"cam"},{"calculate":"cams[datum.cam]","as":"m"},
{"calculate":"datum.cam==0?(datum.val==0?0.07:datum.val/0.006):datum.cam==1?(datum.val+1.1)/1.9:(datum.val+1.1)/2.1","as":"w"},
{"calculate":"datum.m[10]*datum.w+1","as":"D"},
{"calculate":"(datum.m[2]*datum.w+datum.m[3])/datum.D+[0,640,0,0,-644,0][datum.p]","as":"X"},
{"calculate":"(datum.m[6]*datum.w+datum.m[7])/datum.D+[0,1,0,0,405,405][datum.p]","as":"Y"}],
"mark":{"type":"text","font":"Liberation Mono","fontSize":25,"fill":"#3a3a3a","align":"right","baseline":"middle","dx":-4,"dy":1},
"encoding":{"x":{"field":"X","type":"quantitative","scale":{"domain":[0,1302],"nice":false,"zero":false},"axis":null},"y":{"field":"Y","type":"quantitative","scale":{"domain":[1226,0],"nice":false,"zero":false},"axis":null},"text":{"field":"text"}}}
]}
